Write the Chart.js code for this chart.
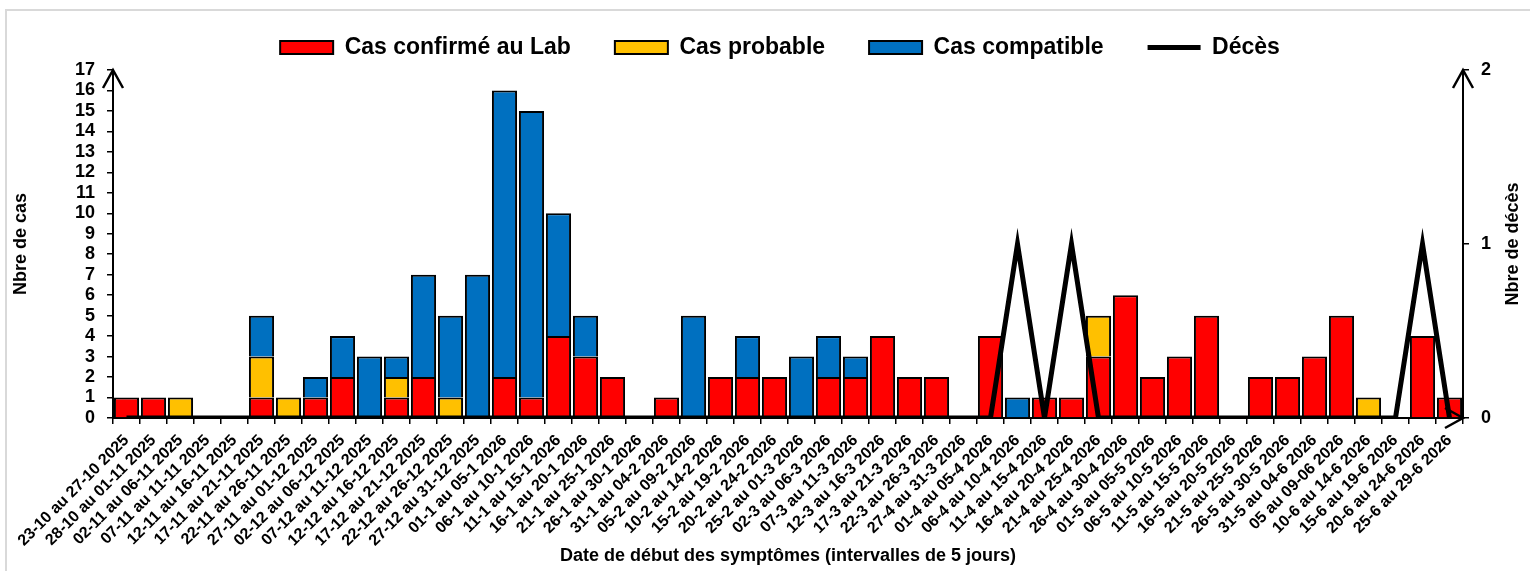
<!DOCTYPE html>
<html>
<head>
<meta charset="utf-8">
<script src="https://cdn.jsdelivr.net/npm/chart.js@4/dist/chart.umd.min.js"></script>
<style>
  html, body { margin: 0; padding: 0; background: #fff; }
  #wrap { width: 1530px; height: 571px; position: relative; }
</style>
</head>
<body>
<div id="wrap"><canvas id="myChart" width="1530" height="571"></canvas></div>
<script>
var periods = [
  "23-10 au 27-10 2025", "28-10 au 01-11 2025", "02-11 au 06-11 2025", "07-11 au 11-11 2025",
  "12-11 au 16-11 2025", "17-11 au 21-11 2025", "22-11 au 26-11 2025", "27-11 au 01-12 2025",
  "02-12 au 06-12 2025", "07-12 au 11-12 2025", "12-12 au 16-12 2025", "17-12 au 21-12 2025",
  "22-12 au 26-12 2025", "27-12 au 31-12 2025", "01-1 au 05-1 2026", "06-1 au 10-1 2026",
  "11-1 au 15-1 2026", "16-1 au 20-1 2026", "21-1 au 25-1 2026", "26-1 au 30-1 2026",
  "31-1 au 04-2 2026", "05-2 au 09-2 2026", "10-2 au 14-2 2026", "15-2 au 19-2 2026",
  "20-2 au 24-2 2026", "25-2 au 01-3 2026", "02-3 au 06-3 2026", "07-3 au 11-3 2026",
  "12-3 au 16-3 2026", "17-3 au 21-3 2026", "22-3 au 26-3 2026", "27-4 au 31-3 2026",
  "01-4 au 05-4 2026", "06-4 au 10-4 2026", "11-4 au 15-4 2026", "16-4 au 20-4 2026",
  "21-4 au 25-4 2026", "26-4 au 30-4 2026", "01-5 au 05-5 2026", "06-5 au 10-5 2026",
  "11-5 au 15-5 2026", "16-5 au 20-5 2026", "21-5 au 25-5 2026", "26-5 au 30-5 2026",
  "31-5 au 04-6 2026", "05 au 09-06 2026", "10-6 au 14-6 2026", "15-6 au 19-6 2026",
  "20-6 au 24-6 2026", "25-6 au 29-6 2026"
];

var casConfirmes = [1,1,0,0,0,1,0,1,2,0,1,2,0,0,2,1,4,3,2,0,1,0,2,2,2,0,2,2,4,2,2,0,4,0,1,1,3,6,2,3,5,0,2,2,3,5,0,0,4,1];
var casProbables = [0,0,1,0,0,2,1,0,0,0,1,0,1,0,0,0,0,0,0,0,0,0,0,0,0,0,0,0,0,0,0,0,0,0,0,0,2,0,0,0,0,0,0,0,0,0,1,0,0,0];
var casCompatibles = [0,0,0,0,0,2,0,1,2,3,1,5,4,7,14,14,6,2,0,0,0,5,0,2,0,3,2,1,0,0,0,0,0,1,0,0,0,0,0,0,0,0,0,0,0,0,0,0,0,0];
var deces = [0,0,0,0,0,0,0,0,0,0,0,0,0,0,0,0,0,0,0,0,0,0,0,0,0,0,0,0,0,0,0,0,0,1,0,1,0,0,0,0,0,0,0,0,0,0,0,0,1,0];

Chart.defaults.font.family = "'Liberation Sans', Arial, sans-serif";
Chart.defaults.font.weight = 'bold';
Chart.defaults.color = '#000';

// frame, axis arrows and right axis title
var decor = {
  id: 'decor',
  beforeInit: function (chart) {
    var fit = chart.legend.fit;
    chart.legend.fit = function () { fit.call(this); this.height = 70; };
  },
  afterLayout: function (chart) {
    chart.legend.top -= 8;
    chart.legend.bottom -= 8;
    chart.legend.left += 15;
    chart.legend.right += 15;
  },
  beforeDraw: function (chart) {
    var c = chart.ctx;
    c.save();
    c.strokeStyle = '#d9d9d9';
    c.lineWidth = 2;
    c.strokeRect(6, 10, 1540, 600);
    c.restore();
  },
  afterDraw: function (chart) {
    var c = chart.ctx, a = chart.chartArea;
    c.save();
    c.strokeStyle = '#000';
    c.lineWidth = 2.5;
    c.beginPath();
    c.moveTo(a.left - 10, a.top + 18); c.lineTo(a.left, a.top); c.lineTo(a.left + 10, a.top + 18);
    c.moveTo(a.right - 10, a.top + 18); c.lineTo(a.right, a.top); c.lineTo(a.right + 10, a.top + 18);
    c.moveTo(a.right - 18, a.bottom - 10); c.lineTo(a.right, a.bottom); c.lineTo(a.right - 18, a.bottom + 10);
    c.stroke();
    c.translate(1513, (a.top + a.bottom) / 2);
    c.rotate(-Math.PI / 2);
    c.font = "bold 18px 'Liberation Sans', Arial, sans-serif";
    c.fillStyle = '#000';
    c.textAlign = 'center';
    c.textBaseline = 'middle';
    c.fillText('Nbre de décès', 0, 0);
    c.restore();
  }
};

var ctx = document.getElementById('myChart').getContext('2d');
var barStyle = { borderColor: '#000', borderWidth: 2, categoryPercentage: 1, barPercentage: 0.93, order: 1, yAxisID: 'y' };

new Chart(ctx, {
  type: 'bar',
  data: {
    labels: periods,
    datasets: [
      Object.assign({ label: 'Cas confirmé au Lab', data: casConfirmes, backgroundColor: '#ff0000' }, barStyle),
      Object.assign({ label: 'Cas probable', data: casProbables, backgroundColor: '#ffc000' }, barStyle),
      Object.assign({ label: 'Cas compatible', data: casCompatibles, backgroundColor: '#0070c0' }, barStyle),
      {
        type: 'line', label: 'Décès', data: deces, yAxisID: 'y1', order: 0,
        borderColor: '#000', backgroundColor: '#000', borderWidth: 5,
        pointRadius: 0, tension: 0, fill: false
      }
    ]
  },
  options: {
    responsive: false,
    animation: false,
    layout: { padding: 0 },
    plugins: {
      tooltip: { enabled: false },
      legend: {
        position: 'top',
        labels: {
          usePointStyle: true,
          pointStyleWidth: 53,
          boxHeight: 13,
          padding: 44,
          font: { size: 23, weight: 'bold' },
          sort: function (a, b) { return a.datasetIndex - b.datasetIndex; },
          generateLabels: function (chart) {
            var items = Chart.defaults.plugins.legend.labels.generateLabels(chart);
            return items.map(function (it) {
              if (it.datasetIndex === 3) {
                it.pointStyle = 'line'; it.lineWidth = 5; it.strokeStyle = '#000';
              } else {
                it.pointStyle = 'rect'; it.lineWidth = 2; it.strokeStyle = '#000';
              }
              return it;
            });
          }
        }
      }
    },
    scales: {
      x: {
        stacked: true,
        offset: true,
        grid: { display: true, drawOnChartArea: false, drawTicks: true, tickLength: 6, color: '#000', lineWidth: 1.5, offset: true },
        border: { display: true, color: '#000', width: 2 },
        ticks: { autoSkip: false, minRotation: 45, maxRotation: 45, padding: 7, font: { size: 16, weight: 'bold' } },
        title: { display: true, text: 'Date de début des symptômes (intervalles de 5 jours)', font: { size: 18, weight: 'bold' }, padding: { top: 0, bottom: 4 } },
        afterFit: function (s) { s.height = 153; }
      },
      y: {
        stacked: true,
        position: 'left',
        min: 0, max: 17,
        ticks: { stepSize: 1, autoSkip: false, padding: 12, font: { size: 18, weight: 'bold' } },
        grid: { drawOnChartArea: false, drawTicks: true, tickLength: 6, color: '#000', lineWidth: 1.5 },
        border: { display: true, color: '#000', width: 2 },
        title: { display: true, text: 'Nbre de cas', font: { size: 18, weight: 'bold' }, padding: { top: 10, bottom: 8 } },
        afterFit: function (s) { s.width = 113; }
      },
      y1: {
        stacked: false,
        position: 'right',
        min: 0, max: 2,
        ticks: { stepSize: 1, autoSkip: false, padding: 12, font: { size: 18, weight: 'bold' } },
        grid: { drawOnChartArea: false, drawTicks: true, tickLength: 6, color: '#000', lineWidth: 1.5 },
        border: { display: true, color: '#000', width: 2 },
        afterFit: function (s) { s.width = 67; }
      }
    }
  },
  plugins: [decor]
});
</script>
</body>
</html>
